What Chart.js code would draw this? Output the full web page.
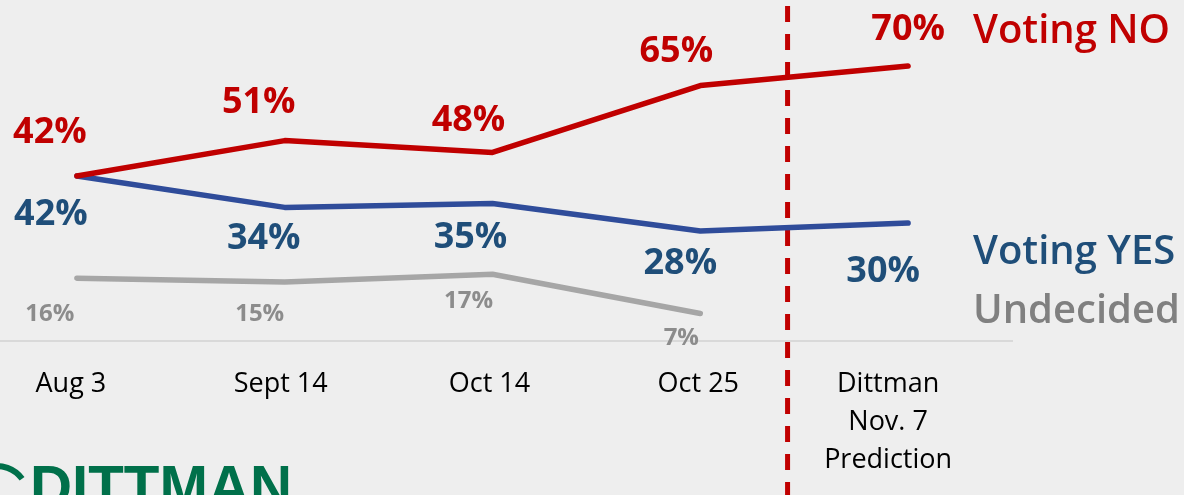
<!DOCTYPE html>
<html>
<head>
<meta charset="utf-8">
<script src="https://cdn.jsdelivr.net/npm/chart.js@4.4.0/dist/chart.umd.min.js"></script>
<style>
  html, body { margin: 0; padding: 0; background: #eeeeee; overflow: hidden; }
  #wrap { position: absolute; left: -27px; top: 0; width: 1211px; height: 495px; }
</style>
</head>
<body>
<div id="wrap"><canvas id="poll" width="1211" height="495"></canvas></div>
<script>
var categories = ["Aug 3", "Sept 14", "Oct 14", "Oct 25", ["Dittman", "Nov. 7", "Prediction"]];
var votingNo = [42, 51, 48, 65, 70];
var votingYes = [42, 34, 35, 28, 30];
var undecided = [16, 15, 17, 7, null];

// label nudges (px) around each point
var noDx = [-27, -26, -24, -24, 0], noDy = [-43, -38, -32, -34, -36];
var yesDx = [-26, -21, -22, -20, -25], yesDy = [39, 31, 34, 33, 49];
var undDx = [-27, -25, -24, -19], undDy = [36, 32, 27, 25];
var catDx = [-6, -4, -3, -2, -20];

var RED = "#c00000", BLUE_LINE = "#2f4c9a", BLUE = "#1f4e79", GREY_LINE = "#a6a6a6", GREY = "#8c8c8c";

var extras = {
    id: "extras",
    beforeDatasetsDraw: function (chart) {
        var ctx = chart.ctx;
        var x = chart.scales.x.getPixelForValue(3.42);
        ctx.save();
        ctx.strokeStyle = RED;
        ctx.lineWidth = 5;
        ctx.setLineDash([16, 12]);
        ctx.lineDashOffset = 22;
        ctx.beginPath();
        ctx.moveTo(x, 0);
        ctx.lineTo(x, 495);
        ctx.stroke();
        ctx.restore();
    },
    afterDatasetsDraw: function (chart) {
        var ctx = chart.ctx;
        var sets = [
            { i: 0, dx: noDx, dy: noDy, col: RED, font: "bold 36px 'Open Sans'" },
            { i: 1, dx: yesDx, dy: yesDy, col: BLUE, font: "bold 36px 'Open Sans'" },
            { i: 2, dx: undDx, dy: undDy, col: GREY, font: "bold 24px 'Open Sans'" }
        ];
        ctx.save();
        ctx.textAlign = "center";
        ctx.textBaseline = "middle";
        sets.forEach(function (s) {
            var meta = chart.getDatasetMeta(s.i);
            var vals = chart.data.datasets[s.i].data;
            meta.data.forEach(function (pt, j) {
                if (vals[j] == null) return;
                ctx.fillStyle = s.col;
                ctx.font = s.font;
                ctx.fillText(vals[j] + "%", pt.x + s.dx[j], pt.y + s.dy[j]);
            });
        });

        // category labels under the axis
        var xs = chart.scales.x;
        ctx.fillStyle = "#000";
        ctx.font = "27px 'Open Sans'";
        categories.forEach(function (c, j) {
            var lines = Array.isArray(c) ? c : [c];
            var cx = xs.getPixelForTick(j) + catDx[j];
            lines.forEach(function (ln, k) {
                ctx.fillText(ln, cx, 384 + k * 38);
            });
        });

        // series names on the right
        ctx.textAlign = "left";
        ctx.font = "600 40px 'Open Sans'";
        ctx.fillStyle = RED;
        ctx.fillText("Voting NO", 1000, 32);
        ctx.fillStyle = BLUE;
        ctx.fillText("Voting YES", 1000, 253);
        ctx.fillStyle = "#808080";
        ctx.fillText("Undecided", 1000, 312);

        // logo
        ctx.fillStyle = "#00704a";
        ctx.font = "bold 60px 'Liberation Sans'";
        ctx.textBaseline = "alphabetic";
        var w = ctx.measureText("DITTMAN").width;
        ctx.save();
        ctx.translate(57, 507);
        ctx.scale(262 / w, 1);
        ctx.fillText("DITTMAN", 0, 0);
        ctx.restore();
        ctx.strokeStyle = "#00704a";
        ctx.lineWidth = 6;
        ctx.beginPath();
        ctx.arc(24, 497, 31, -Math.PI * 0.58, -Math.PI * 0.2);
        ctx.stroke();
        ctx.restore();
    }
};

new Chart(document.getElementById("poll"), {
    type: "line",
    data: {
        labels: categories,
        datasets: [
            { label: "Voting NO", data: votingNo, borderColor: RED },
            { label: "Voting YES", data: votingYes, borderColor: BLUE_LINE },
            { label: "Undecided", data: undecided, borderColor: GREY_LINE }
        ]
    },
    options: {
        responsive: false,
        animation: false,
        devicePixelRatio: 1,
        layout: { padding: { top: 7, right: 172, left: 0, bottom: 0 } },
        elements: {
            line: { borderWidth: 5.5, tension: 0, borderCapStyle: "round", borderJoinStyle: "round" },
            point: { radius: 0 }
        },
        plugins: { legend: { display: false }, tooltip: { enabled: false } },
        scales: {
            x: {
                offset: true,
                grid: { display: false, drawTicks: false },
                border: { display: true, color: "#d9d9d9", width: 2 },
                ticks: { display: false },
                afterFit: function (s) { s.height = 154; }
            },
            y: { display: false, min: 0, max: 85 }
        }
    },
    plugins: [extras]
});
</script>
</body>
</html>
